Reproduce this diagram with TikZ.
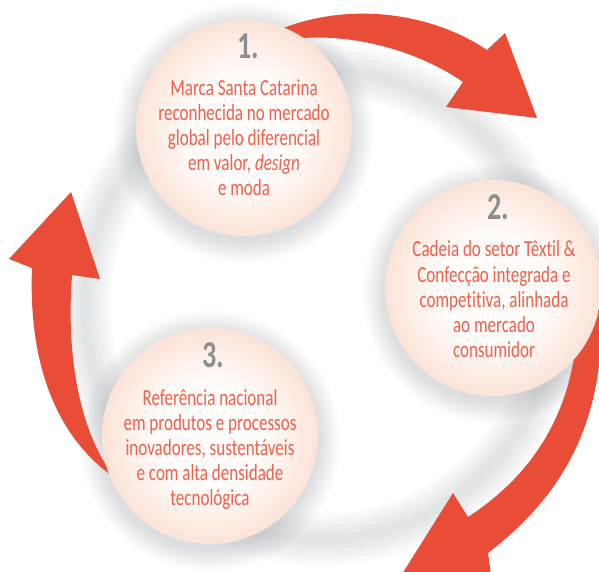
\documentclass[tikz,border=0pt]{standalone}
\usepackage{fontspec}
\setmainfont{Carlito}[FakeStretch=0.74, Ligatures=NoCommon]
\definecolor{arrowred}{RGB}{233,76,55}
\definecolor{txtred}{RGB}{237,97,78}
\definecolor{numgray}{RGB}{140,142,146}
\definecolor{circin}{RGB}{255,251,249}
\definecolor{circout}{RGB}{251,227,215}
\definecolor{shadowgray}{RGB}{150,155,162}
\pgfdeclareradialshading{bubble}{\pgfpoint{0bp}{0bp}}{color(0bp)=(circin); color(13bp)=(circin); color(25bp)=(circout); color(50bp)=(circout)}
\tikzset{
  bubble/.style={circle, minimum size=216pt, inner sep=0pt, shading=bubble},
  softshadow/.style={fill=shadowgray, opacity=0.028, draw=none},
  arrowshape/.style={fill=arrowred, draw=none},
  numtext/.style={anchor=base, text=numgray, font=\fontsize{38}{38}\selectfont\bfseries, inner sep=0pt},
  linetext/.style={anchor=base, text=txtred, font=\fontsize{23}{25}\selectfont, inner sep=0pt},
}
\begin{document}
\begin{tikzpicture}[x=1pt,y=-1pt]
\useasboundingbox (0,0) rectangle (599,572);
\clip (0,0) rectangle (599,572);
\fill[white] (0,0) rectangle (599,572);
% soft ring shadow
\foreach \w in {50,40,30,20,10}{
  \draw[shadowgray, opacity=0.055, line width=\w pt] (320,305) circle[radius=235];
}
% soft shadows of the bubbles
\foreach \cx/\cy in {244/128, 493/288, 210/436}{
  \foreach \r in {108,110,...,130}{
    \fill[softshadow] (\cx,\cy+5) circle[radius=\r];
  }
}
% arrow 1 (top)
\fill[arrowshape] (250,45) .. controls (320,0) and (420,5) .. (487,50)
  -- (505,33) -- (537,118) -- (446,107) -- (463,82)
  .. controls (420,52) and (350,30) .. (285,40) -- cycle;
% arrow 2 (right, down)
\fill[arrowshape] (600,285) .. controls (610,410) and (570,490) .. (488,553)
  -- (493,590) -- (392,590) -- (453,493) -- (468,517)
  .. controls (540,470) and (580,400) .. (578,300) -- cycle;
% arrow 3 (left, up)
\fill[arrowshape] (115,478) .. controls (60,440) and (28,370) .. (32,268)
  -- (9,259) -- (71,192) -- (100,279) -- (72,275)
  .. controls (65,370) and (85,440) .. (115,478) -- cycle;
% bubbles
\node[bubble] (c1) at (244,128) {};
\node[bubble] (c2) at (493,288) {};
\node[bubble] (c3) at (210,436) {};
% texts circle 1
\node[numtext] (n1) at (248,59) {1.};
\node[linetext] (t11) at (244,96) {Marca Santa Catarina};
\node[linetext] (t12) at (244,121) {reconhecida no mercado};
\node[linetext] (t13) at (244,146) {global pelo diferencial};
\node[linetext] (t14) at (244,171) {em valor, \textit{design}};
\node[linetext] (t15) at (244,196) {e moda};
% texts circle 2
\node[numtext] (n2) at (498,219) {2.};
\node[linetext] (t21) at (494,256) {Cadeia do setor Têxtil \&};
\node[linetext] (t22) at (494,282) {Confecção integrada e};
\node[linetext] (t23) at (494,307) {competitiva, alinhada};
\node[linetext] (t24) at (494,332) {ao mercado};
\node[linetext] (t25) at (494,357) {consumidor};
% texts circle 3
\node[numtext] (n3) at (213,367) {3.};
\node[linetext] (t31) at (210,405) {Referência nacional};
\node[linetext] (t32) at (210,430) {em produtos e processos};
\node[linetext] (t33) at (210,455) {inovadores, sustentáveis};
\node[linetext] (t34) at (210,480) {e com alta densidade};
\node[linetext] (t35) at (210,505) {tecnológica};
\end{tikzpicture}
\end{document}
